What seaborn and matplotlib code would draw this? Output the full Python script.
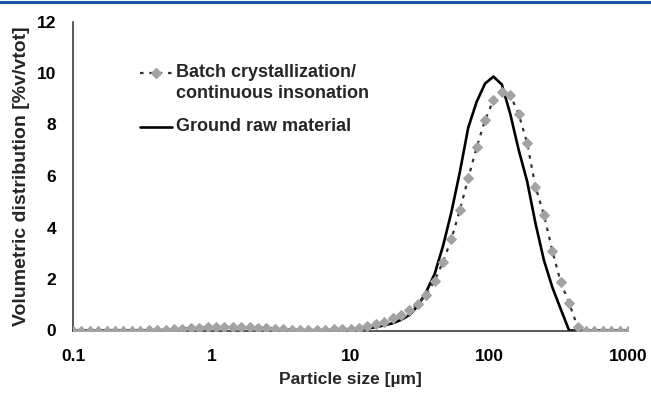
import numpy as np
import pandas as pd
import matplotlib
matplotlib.use("Agg")
import matplotlib.pyplot as plt
import seaborn as sns
from matplotlib.patches import Rectangle
from matplotlib.ticker import LogLocator, FixedLocator, MultipleLocator, FixedFormatter

# ---- data ----
particle_size_um = [
    0.1, 0.1150, 0.1322, 0.1520, 0.1748, 0.2009, 0.2310, 0.2656, 0.3054, 0.3511,
    0.4037, 0.4642, 0.5337, 0.6136, 0.7055, 0.8111, 0.9326, 1.0723, 1.2328, 1.4175,
    1.6298, 1.8738, 2.1544, 2.4771, 2.8480, 3.2745, 3.7649, 4.3288, 4.9770, 5.7224,
    6.5793, 7.5646, 8.6975, 10.0, 11.50, 13.22, 15.20, 17.48, 20.09, 23.10,
    26.56, 30.54, 35.11, 40.37, 46.42, 53.37, 61.36, 70.55, 81.11, 93.26,
    107.2, 123.3, 141.7, 163.0, 187.4, 215.4, 247.7, 284.8, 327.5, 376.5,
    432.9, 497.7, 572.2, 657.9, 756.5, 869.8, 1000.0,
]
batch_insonation = [
    0.0, 0.0, 0.0, 0.0, 0.0, 0.0, 0.0, 0.0, 0.0, 0.01,
    0.01, 0.02, 0.04, 0.07, 0.09, 0.11, 0.12, 0.14, 0.15, 0.15,
    0.14, 0.13, 0.11, 0.09, 0.07, 0.05, 0.03, 0.02, 0.02, 0.02,
    0.03, 0.04, 0.05, 0.07, 0.10, 0.16, 0.25, 0.34, 0.47, 0.60,
    0.80, 1.02, 1.38, 1.93, 2.67, 3.55, 4.68, 5.91, 7.11, 8.17,
    8.95, 9.25, 9.15, 8.40, 7.29, 5.58, 4.49, 3.10, 1.87, 1.06,
    0.15, 0.0, 0.0, 0.0, 0.0, 0.0, 0.0,
]
ground_raw = [
    0.0, 0.0, 0.0, 0.0, 0.0, 0.0, 0.0, 0.0, 0.0, 0.01,
    0.01, 0.02, 0.03, 0.05, 0.07, 0.09, 0.10, 0.11, 0.12, 0.12,
    0.11, 0.10, 0.09, 0.07, 0.05, 0.03, 0.02, 0.01, 0.01, 0.01,
    0.01, 0.02, 0.02, 0.03, 0.05, 0.08, 0.13, 0.20, 0.28, 0.41,
    0.60, 0.95, 1.50, 2.19, 3.28, 4.60, 6.15, 7.88, 8.88, 9.59,
    9.86, 9.55, 8.41, 7.01, 5.80, 4.16, 2.73, 1.68, 0.83, 0.0,
    0.0, 0.0, 0.0, 0.0, 0.0, 0.0, 0.0,
]
x_tick_values = [0.1, 1, 10, 100, 1000]
x_tick_labels = ["0.1", "1", "10", "100", "1000"]
y_tick_values = [0, 2, 4, 6, 8, 10, 12]

label_batch_1 = "Batch crystallization/"
label_batch_2 = "continuous insonation"
label_ground = "Ground raw material"

df = pd.DataFrame({
    "size": particle_size_um,
    "batch": batch_insonation,
    "ground": ground_raw,
})

sns.set_theme(style="white")
plt.rcParams["font.family"] = ["Liberation Sans", "DejaVu Sans"]
plt.rcParams["font.weight"] = "bold"

W, H = 651, 394
fig = plt.figure(figsize=(W / 100, H / 100), dpi=100)
fig.patch.set_facecolor("white")
ax_l, ax_r, ax_t, ax_b = 73, 628, 21.5, 330.5
ax = fig.add_axes([ax_l / W, 1 - ax_b / H, (ax_r - ax_l) / W, (ax_b - ax_t) / H])

# top blue rule
fig.add_artist(Rectangle((0, 1 - 4.2 / H), 1, 2.8 / H, transform=fig.transFigure,
                         facecolor="#1459a5", edgecolor="none"))

sns.lineplot(data=df, x="size", y="ground", ax=ax, color="black", linewidth=1.9,
             estimator=None, sort=False, zorder=2)
sns.lineplot(data=df, x="size", y="batch", ax=ax, color="#333333", linewidth=1.6,
             linestyle=(0, (1.6, 2.6)), marker="D", markersize=5.5,
             markerfacecolor="#a3a3a3", markeredgecolor="#a3a3a3",
             estimator=None, sort=False, zorder=3)

ax.set_xscale("log")
ax.set_xlim(0.1, 1000)
ax.set_ylim(0, 12)

ax.xaxis.set_major_locator(FixedLocator(x_tick_values))
ax.xaxis.set_major_formatter(FixedFormatter(x_tick_labels))
ax.xaxis.set_minor_locator(LogLocator(base=10, subs=np.arange(2, 10), numticks=20))
ax.yaxis.set_major_locator(FixedLocator(y_tick_values))
ax.yaxis.set_minor_locator(MultipleLocator(1))

for s in ["top", "right"]:
    ax.spines[s].set_visible(False)
for s in ["left", "bottom"]:
    ax.spines[s].set_color("#2b2b2b")
    ax.spines[s].set_linewidth(1.1)

TICK_FS = 12.5
ax.tick_params(axis="both", which="major", direction="in", length=4.5, width=1,
               color="#2b2b2b", labelsize=TICK_FS, labelcolor="black")
ax.tick_params(axis="both", which="minor", direction="in", length=3, width=0.9,
               color="#2b2b2b")
ax.tick_params(axis="x", which="major", pad=13)
ax.tick_params(axis="y", which="major", pad=12)
for lab in ax.get_xticklabels() + ax.get_yticklabels():
    lab.set_fontweight("bold")

ax.set_xlabel("Particle size [µm]", fontsize=12.5, fontweight="bold", labelpad=6)
ax.set_ylabel("Volumetric distribution [%v/vtot]", fontsize=14, fontweight="bold",
              labelpad=5)
ax.grid(False)

# legend (manual, to keep the key aligned with the first label line)
def fx(px):
    return (px - ax_l) / (ax_r - ax_l)

def fy(py):
    return (ax_b - py) / (ax_b - ax_t)

LEG_FS = 13
y1, y2, y3 = fy(72.7), fy(93.3), fy(126.7)
ax.plot([fx(140), fx(171.7)], [y1, y1], transform=ax.transAxes, color="#333333",
        linewidth=1.6, linestyle=(0, (1.6, 2.6)), clip_on=False)
ax.plot([fx(156)], [y1], transform=ax.transAxes, marker="D", markersize=5.5,
        color="#a3a3a3", linestyle="none", clip_on=False)
ax.plot([fx(140), fx(171.7)], [y3, y3], transform=ax.transAxes, color="black",
        linewidth=1.9, clip_on=False)
ax.text(fx(176), y1, label_batch_1, transform=ax.transAxes,
        fontsize=LEG_FS, fontweight="bold", va="center", ha="left")
ax.text(fx(176), y2, label_batch_2, transform=ax.transAxes,
        fontsize=LEG_FS, fontweight="bold", va="center", ha="left")
ax.text(fx(176), y3, label_ground, transform=ax.transAxes,
        fontsize=LEG_FS, fontweight="bold", va="center", ha="left")

fig.savefig("out.png", dpi=100)
